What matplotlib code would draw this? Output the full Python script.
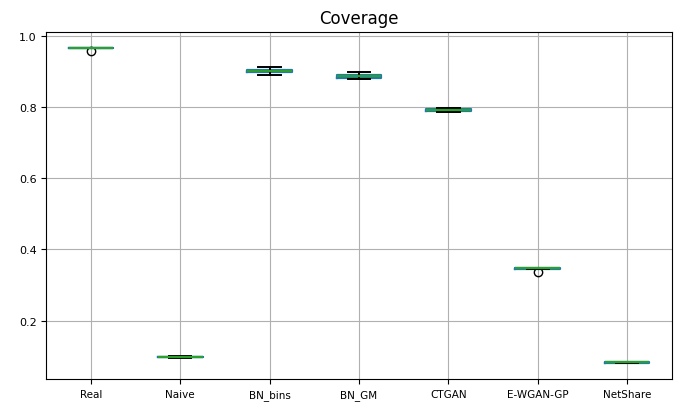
import pandas as pd
import matplotlib
matplotlib.use("Agg")
from matplotlib import pyplot as plt

# Coverage values per method (several runs each)
real = [0.966, 0.967, 0.965, 0.966, 0.967, 0.966, 0.958]
naive = [0.095, 0.097, 0.098, 0.098, 0.099, 0.100]
bn_bins = [0.890, 0.897, 0.899, 0.901, 0.903, 0.905, 0.912]
bn_gm = [0.879, 0.881, 0.884, 0.886, 0.888, 0.891, 0.899]
ctgan = [0.785, 0.788, 0.790, 0.792, 0.794, 0.796, 0.798]
ewgan = [0.349, 0.347, 0.348, 0.346, 0.347, 0.337]
netshare = [0.080, 0.081, 0.082, 0.083, 0.084, 0.085]

methods = ["Real", "Naive", "BN_bins", "BN_GM", "CTGAN", "E-WGAN-GP", "NetShare"]
values = [real, naive, bn_bins, bn_gm, ctgan, ewgan, netshare]

df = pd.DataFrame({m: pd.Series(v) for m, v in zip(methods, values)})

fig = plt.figure(figsize=(6.8, 4.1), dpi=100)
ax = fig.add_axes([0.068, 0.073, 0.92, 0.847])
df.boxplot(ax=ax, grid=True, fontsize=8,
           boxprops=dict(linewidth=1.6, color="#1f77b4"),
           medianprops=dict(linewidth=1.6, color="#2ca02c"),
           whiskerprops=dict(linewidth=1.4, color="black"),
           capprops=dict(linewidth=1.4, color="black"))
ax.set_title("Coverage", fontsize=12)
ax.tick_params(axis="x", labelsize=7.5)
fig.savefig("out.png", dpi=100)
